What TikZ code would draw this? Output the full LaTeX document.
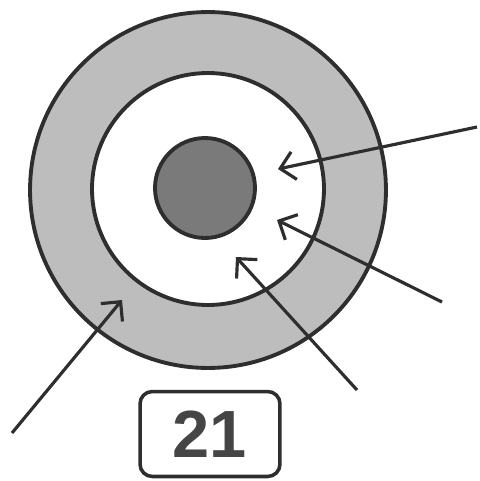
\documentclass[tikz,border=0pt]{standalone}
\usepackage{fontspec}
\setsansfont{Liberation Sans}
\usetikzlibrary{arrows.meta, positioning}
\definecolor{linegray}{HTML}{2E2E2E}
\definecolor{ringgray}{HTML}{BDBDBD}
\definecolor{coregray}{HTML}{7A7A7A}
\definecolor{labelgray}{HTML}{454545}

\begin{document}
\begin{tikzpicture}[
      x=0.02cm, y=-0.02cm,
      disc/.style={circle, draw=linegray, line width=2.2pt, inner sep=0pt},
      outerring/.style={disc, fill=ringgray, minimum size=7.12cm},
      innerring/.style={disc, fill=white, minimum size=4.64cm},
      core/.style={disc, fill=coregray, minimum size=2cm},
      pointer/.style={-{Straight Barb[length=8pt, width=16pt]}, line width=1.8pt, linegray},
      tag/.style={draw=linegray, line width=2pt, rounded corners=7pt,
                  minimum width=2.8cm, minimum height=1.7cm, text=labelgray,
                  font=\sffamily\bfseries\fontsize{38}{38}\selectfont}
    ]
    \useasboundingbox (0,0) rectangle (480,481);

    \node[outerring] (outer) at (208,190) {};
    \node[innerring] (inner) at (208,189) {};
    \node[core] (centre) at (205,188) {};

    \node[tag] (num) at (210,434) {21};

    % arrow ends
    \coordinate (a1) at (477,127);
    \coordinate (t1) at (278,169);
    \coordinate (a2) at (442,302);
    \coordinate (t2) at (277,220);
    \coordinate (a3) at (357,390);
    \coordinate (t3) at (236,257);
    \coordinate (a4) at (12,433);
    \coordinate (t4) at (122,300);

    \draw[pointer] (a1) -- (t1);
    \draw[pointer] (a2) -- (t2);
    \draw[pointer] (a3) -- (t3);
    \draw[pointer] (a4) -- (t4);
  \end{tikzpicture}
\end{document}
